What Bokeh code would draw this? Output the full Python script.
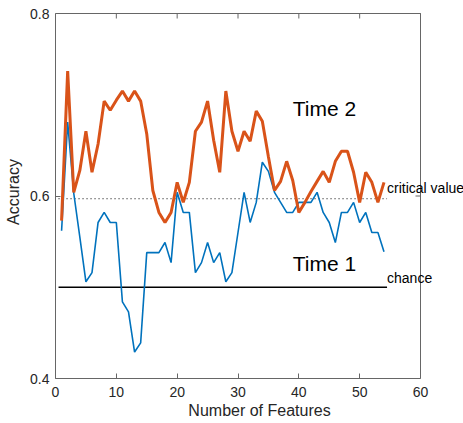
import math
from bokeh.plotting import figure
from bokeh.models import Range1d, FixedTicker, Label
from bokeh.embed import file_html
from bokeh.resources import INLINE

features = list(range(1, 55))
time2 = [0.573, 0.737, 0.604, 0.628, 0.671, 0.626, 0.657, 0.704, 0.694, 0.705,
         0.715, 0.704, 0.715, 0.704, 0.668, 0.606, 0.582, 0.571, 0.582, 0.615,
         0.593, 0.615, 0.671, 0.681, 0.704, 0.661, 0.626, 0.715, 0.671, 0.649,
         0.671, 0.660, 0.693, 0.682, 0.643, 0.606, 0.616, 0.638, 0.617, 0.582,
         0.593, 0.605, 0.616, 0.627, 0.615, 0.638, 0.649, 0.649, 0.626, 0.593,
         0.626, 0.615, 0.593, 0.615]
time1 = [0.562, 0.681, 0.603, 0.555, 0.506, 0.516, 0.571, 0.582, 0.571, 0.571,
         0.484, 0.473, 0.429, 0.439, 0.538, 0.538, 0.538, 0.549, 0.527, 0.604,
         0.582, 0.582, 0.516, 0.527, 0.549, 0.527, 0.538, 0.506, 0.516, 0.560,
         0.604, 0.571, 0.593, 0.637, 0.627, 0.604, 0.593, 0.582, 0.582, 0.593,
         0.593, 0.593, 0.604, 0.582, 0.571, 0.549, 0.582, 0.582, 0.593, 0.571,
         0.582, 0.560, 0.560, 0.539]
critical_value = 0.597
chance = 0.5
ref_x = [0.5, 54.5]
x_ticks = [0, 10, 20, 30, 40, 50, 60]
y_ticks = [0.4, 0.6, 0.8]
x_lim = (0, 60)
y_lim = (0.4, 0.8)

FONT = "Liberation Sans"
AXIS_COL = "#666666"
TXT_COL = "#262626"

# layout: the axes box is 365 x 365 px, at left=55, top=13 of a 463 x 423 page.
W, H = 463, 423
LEFT, TOP, BOX = 55, 13, 365
FRAME_TOP = 5
px_x = BOX / (x_lim[1] - x_lim[0])
px_y = BOX / (y_lim[1] - y_lim[0])
x_end = x_lim[1] + (W - LEFT - BOX) / px_x        # frame runs to the page's right edge
y_end = y_lim[1] + (TOP - FRAME_TOP) / px_y       # a little room above the box

p = figure(width=W, height=H, output_backend="svg", toolbar_location=None,
           x_range=Range1d(x_lim[0], x_end), y_range=Range1d(y_lim[0], y_end),
           min_border_left=LEFT, min_border_right=0, min_border_top=FRAME_TOP,
           min_border_bottom=H - TOP - BOX)
p.grid.visible = False
p.outline_line_color = None
p.background_fill_color = "white"
p.border_fill_color = "white"

for ax in (p.xaxis[0], p.yaxis[0]):
    ax.axis_line_color = AXIS_COL
    ax.major_tick_line_color = AXIS_COL
    ax.major_tick_in = 5
    ax.major_tick_out = 0
    ax.minor_tick_line_color = None
    ax.major_label_text_font = FONT
    ax.major_label_text_font_size = "14px"
    ax.major_label_text_color = TXT_COL
    ax.axis_label_text_font = FONT
    ax.axis_label_text_font_size = "16px"
    ax.axis_label_text_font_style = "normal"
    ax.axis_label_text_color = TXT_COL

p.xaxis.ticker = FixedTicker(ticks=x_ticks)
p.yaxis.ticker = FixedTicker(ticks=y_ticks)
p.xaxis.bounds = x_lim
p.yaxis.bounds = y_lim
p.xaxis.axis_label = "Number of Features"
p.yaxis.axis_label = "Accuracy"
p.xaxis.major_label_standoff = 8
p.xaxis.axis_label_standoff = 2
p.yaxis.major_label_standoff = 6
p.yaxis.axis_label_standoff = 5

# top and right edges of the box, with inward ticks
p.line([x_lim[0], x_lim[1], x_lim[1]], [y_lim[1], y_lim[1], y_lim[0]],
       line_color=AXIS_COL, line_width=1)
p.ray(x=x_ticks, y=[y_lim[1]] * len(x_ticks), length=5, length_units="screen",
      angle=-math.pi / 2, line_color=AXIS_COL, line_width=1)
p.ray(x=[x_lim[1]] * len(y_ticks), y=y_ticks, length=5, length_units="screen",
      angle=math.pi, line_color=AXIS_COL, line_width=1)

p.line(ref_x, [critical_value, critical_value], line_color="black", line_width=1, line_dash="1 3")
p.line(ref_x, [chance, chance], line_color="black", line_width=1.5)
p.line(features, time1, line_color="#0072BD", line_width=1.6)
p.line(features, time2, line_color="#D95319", line_width=3)

for txt, x, y, size in [("critical value", 54.5, 0.609, "14px"),
                        ("chance", 54.5, 0.510, "14px"),
                        ("Time 2", 39.0, 0.696, "21px"),
                        ("Time 1", 39.0, 0.526, "21px")]:
    p.add_layout(Label(x=x, y=y, text=txt, text_font=FONT, text_font_size=size,
                       text_color="black", text_baseline="middle", text_align="left"))

open("out.html", "w").write(file_html(p, INLINE))
